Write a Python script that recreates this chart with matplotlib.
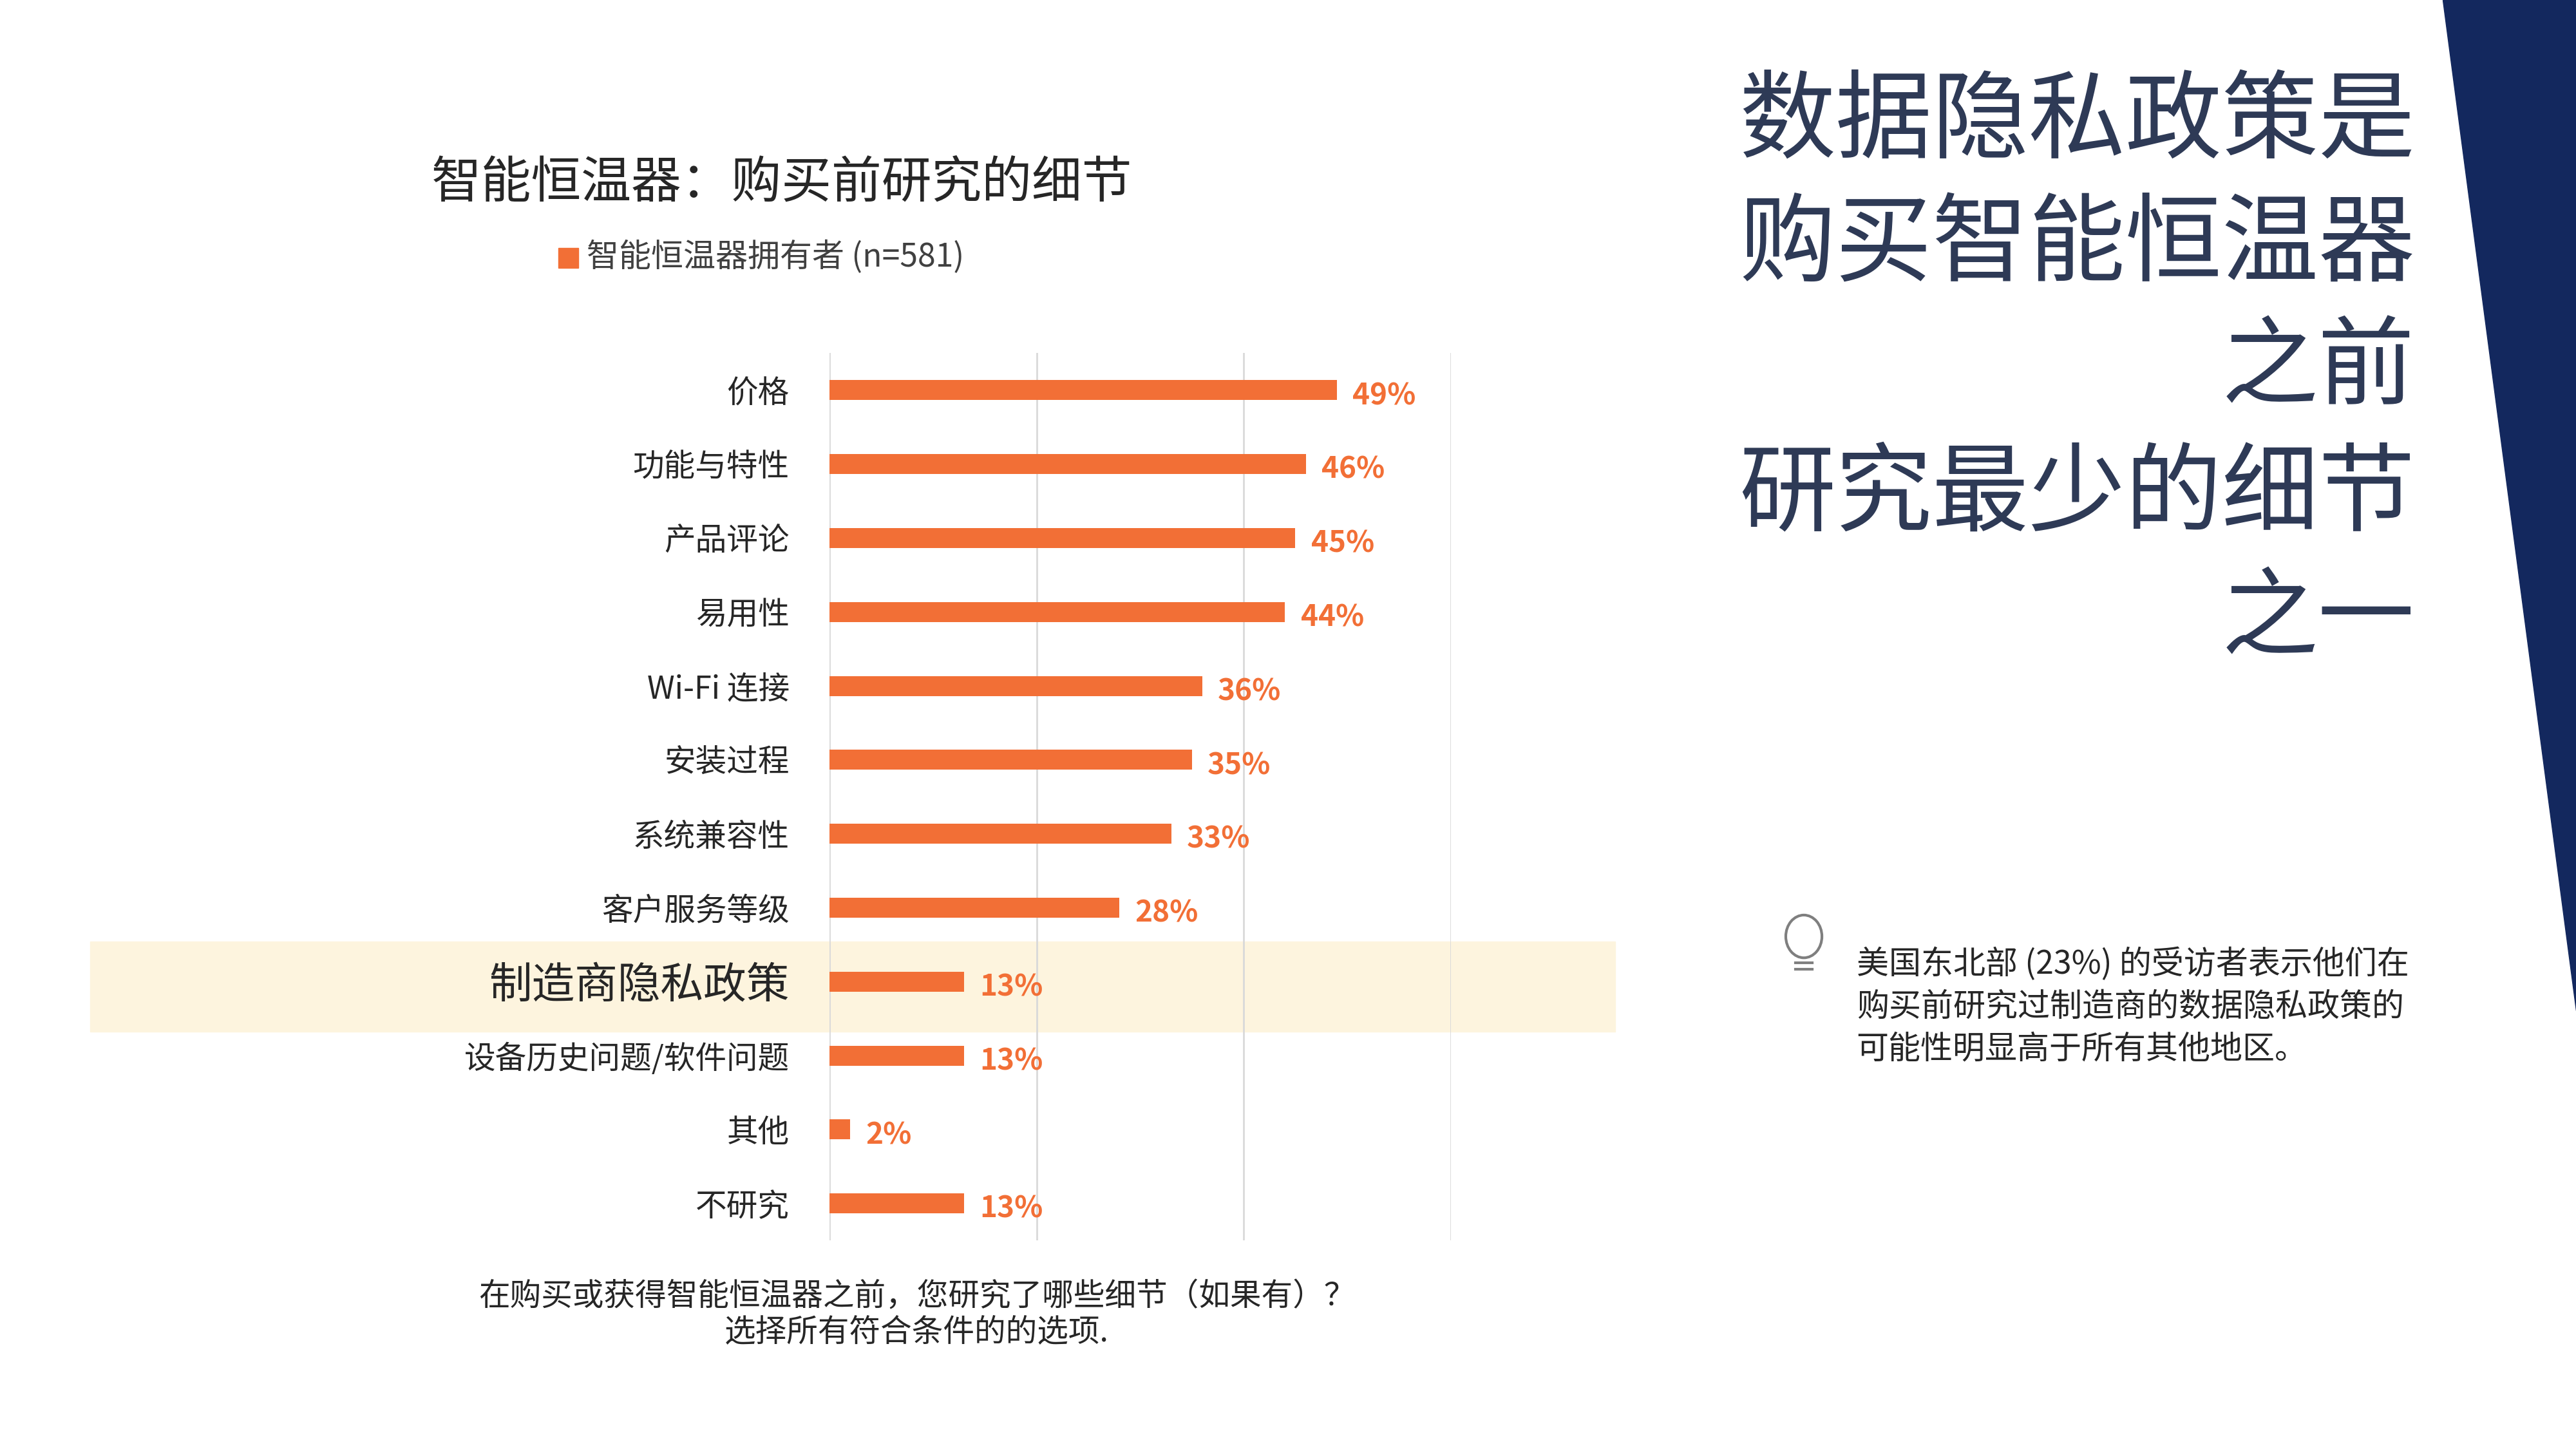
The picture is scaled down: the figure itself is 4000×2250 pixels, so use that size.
import matplotlib
matplotlib.use("Agg")
import matplotlib.pyplot as plt
from matplotlib.patches import Rectangle, Polygon, Ellipse

categories = ["价格", "功能与特性", "产品评论", "易用性", "Wi-Fi 连接", "安装过程",
              "系统兼容性", "客户服务等级", "制造商隐私政策", "设备历史问题/软件问题", "其他", "不研究"]
values = [49, 46, 45, 44, 36, 35, 33, 28, 13, 13, 2, 13]
xticks = [0, 20, 40, 60]

FONT = "Noto Sans CJK SC"
plt.rcParams["font.family"] = FONT
ORANGE = "#F26F36"
W, H = 1568, 882
def fx(x): return x / W
def fy(y): return 1 - y / H

fig = plt.figure(figsize=(40, 22.5), dpi=100)
fig.patch.set_facecolor("white")

# highlight band (behind axes)
bg = fig.add_axes([0, 0, 1, 1], zorder=-1)
bg.set_xlim(0, W); bg.set_ylim(H, 0); bg.axis("off")
bg.add_patch(Rectangle((55, 573), 928, 55, color="#FDF4DE"))
bg.add_patch(Polygon([(1487, 0), (W, 0), (W, 615)], closed=True, color="#13285E"))
# bulb icon
bg.add_patch(Ellipse((1098, 570), 22, 26, fill=False, edgecolor="#7F7F7F", linewidth=3))
for yy in (586, 590):
    bg.plot([1093, 1103], [yy, yy], color="#7F7F7F", linewidth=3)

ax = fig.add_axes([fx(505), fy(755), fx(883) - fx(505), (755 - 215) / H], zorder=1)
ax.patch.set_alpha(0)
pos = list(range(len(categories)))
ax.barh(pos, values, height=0.27, color=ORANGE, zorder=3)
ax.set_xlim(0, 60)
ax.set_ylim(len(categories) - 0.5, -0.5)
ax.set_xticks(xticks)
ax.xaxis.grid(True, color="#D9D9D9", linewidth=2)
ax.tick_params(length=0, labelbottom=False)
for s in ax.spines.values():
    s.set_visible(False)
ax.set_yticks(pos)
ax.set_yticklabels(categories)
for i, lab in enumerate(ax.get_yticklabels()):
    lab.set_fontsize(48 if i == 8 else 35)
    lab.set_color("#262626")
ax.tick_params(axis="y", pad=45)
for i, v in enumerate(values):
    ax.text(v + 1.5, i + 0.08, f"{v}%", color=ORANGE, fontsize=33, fontweight="bold",
            va="center", ha="left", family=FONT)

fig.text(fx(476), fy(112), "智能恒温器：购买前研究的细节", fontsize=56, ha="center", va="center", color="#262626")
fig.patches.append(Rectangle((fx(340), fy(163)), fx(12), 12 / H, transform=fig.transFigure, color=ORANGE))
fig.text(fx(357), fy(157), "智能恒温器拥有者 (n=581)", fontsize=36, ha="left", va="center", color="#404040")
fig.text(fx(558), fy(800), "在购买或获得智能恒温器之前，您研究了哪些细节（如果有）？\n选择所有符合条件的的选项.",
         fontsize=35, ha="center", va="center", color="#262626", linespacing=1.15)

big = ["数据隐私政策是", "购买智能恒温器", "之前", "研究最少的细节", "之一"]
ys = [75, 150, 225, 302, 378]
for t, y in zip(big, ys):
    fig.text(fx(1470), fy(y), t, fontsize=108, ha="right", va="center", color="#2E3A56", fontweight="light")

fig.text(fx(1130), fy(613), "美国东北部 (23%) 的受访者表示他们在\n购买前研究过制造商的数据隐私政策的\n可能性明显高于所有其他地区。",
         fontsize=36, ha="left", va="center", color="#262626", linespacing=1.35)

fig.savefig("out.png", dpi=100)
